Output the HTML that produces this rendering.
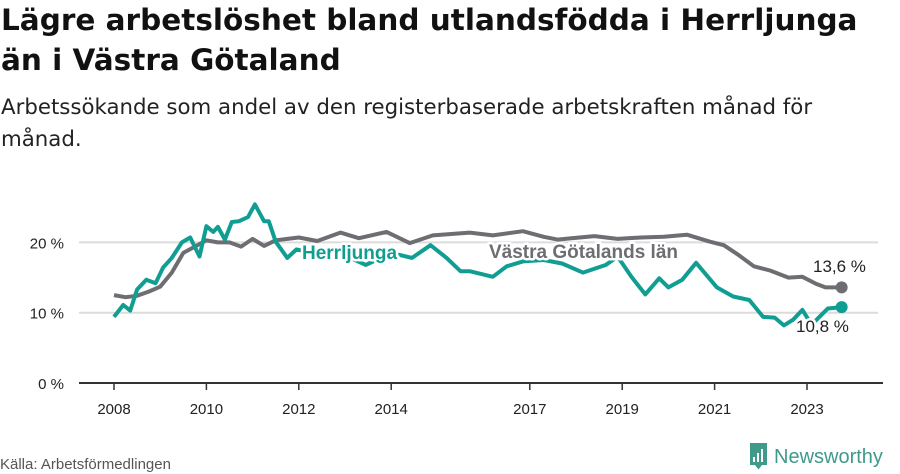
<!DOCTYPE html>
<html><head><meta charset="utf-8"><style>
html,body{margin:0;padding:0;background:#fff;}
body{width:900px;height:474px;overflow:hidden;position:relative;font-family:"Liberation Sans","DejaVu Sans",sans-serif;}
#title{position:absolute;left:1px;top:0px;font-family:"DejaVu Sans",sans-serif;font-size:29.5px;font-weight:bold;line-height:40px;color:#111;margin:0;width:899px;white-space:nowrap}
#sub{position:absolute;left:1px;top:92px;font-family:"DejaVu Sans",sans-serif;font-size:21.3px;line-height:32px;color:#222;margin:0;width:899px;white-space:nowrap}
svg{position:absolute;left:0;top:0}
.lbl{paint-order:stroke;stroke:#fff;stroke-width:5px;stroke-linejoin:round}
</style></head><body>
<h1 id="title">Lägre arbetslöshet bland utlandsfödda i Herrljunga<br>än i Västra Götaland</h1>
<p id="sub">Arbetssökande som andel av den registerbaserade arbetskraften månad för<br>månad.</p>
<svg id="chart" width="900" height="474"></svg>
<script>
const yTicks=[0,10,20];
const yTickLabels=["0 %","10 %","20 %"];
const xTicks=[2008,2010,2012,2014,2017,2019,2021,2023];
const grayDates=[2008,2008.25,2008.5,2008.75,2009,2009.25,2009.5,2009.75,2010,2010.25,2010.5,2010.75,2011,2011.25,2011.5,2011.75,2012,2012.4,2012.9,2013.3,2013.9,2014.4,2014.9,2015.3,2015.7,2016.2,2016.85,2017.3,2017.6,2017.9,2018.4,2018.9,2019.4,2019.9,2020.4,2020.9,2021.2,2021.5,2021.85,2022.2,2022.6,2022.9,2023.2,2023.4,2023.75];
const grayValues=[12.5,12.2,12.4,13.0,13.7,15.7,18.5,19.4,20.3,20.0,20.0,19.4,20.5,19.5,20.3,20.5,20.7,20.2,21.4,20.6,21.5,19.9,21.0,21.2,21.4,21.0,21.6,20.8,20.4,20.6,20.9,20.5,20.7,20.8,21.1,20.1,19.6,18.3,16.6,16.0,15.0,15.1,14.1,13.6,13.6];
const tealDates=[2008,2008.2,2008.35,2008.5,2008.7,2008.9,2009.06,2009.25,2009.47,2009.65,2009.85,2010,2010.15,2010.25,2010.4,2010.55,2010.7,2010.9,2011.05,2011.25,2011.35,2011.5,2011.75,2011.95,2012.3,2012.8,2013.45,2014.0,2014.45,2014.85,2015.2,2015.5,2015.7,2016.2,2016.5,2016.85,2017.3,2017.7,2018.15,2018.65,2018.9,2019.2,2019.5,2019.8,2020.0,2020.3,2020.6,2021.05,2021.4,2021.75,2022.05,2022.3,2022.5,2022.7,2022.9,2023.1,2023.45,2023.75];
const tealValues=[9.4,11.1,10.3,13.3,14.7,14.2,16.4,17.8,20.0,20.7,18.0,22.3,21.5,22.2,20.4,22.9,23.0,23.6,25.4,23.0,23.0,20.1,17.8,19.0,18.5,18.7,16.8,18.5,17.8,19.6,17.8,15.9,15.9,15.1,16.6,17.3,17.5,17.0,15.7,16.8,18.0,15.1,12.6,14.9,13.6,14.7,17.1,13.6,12.3,11.8,9.4,9.3,8.2,9.0,10.4,8.3,10.6,10.8];
const NS='http://www.w3.org/2000/svg';
const svg=document.getElementById('chart');
const X=t=>114+46.2*(t-2008);
const Y=v=>383-7.03*v;
function mk(tag,attrs,parent){const e=document.createElementNS(NS,tag);for(const k in attrs)e.setAttribute(k,attrs[k]);(parent||svg).appendChild(e);return e;}
yTicks.forEach((v,i)=>{
  if(v>0){const g=mk('line',{x1:79,x2:878,y1:Y(v),y2:Y(v),stroke:'#dcdcdc','stroke-width':2});
  
  }
  const t=mk('text',{x:64,y:Y(v)+6,'text-anchor':'end','font-size':15,fill:'#222'});
  t.textContent=yTickLabels[i];
  
  
});
const ax=mk('line',{x1:79,x2:883,y1:Y(0),y2:Y(0),stroke:'#333','stroke-width':2});


xTicks.forEach(yr=>{
  const tk=mk('line',{x1:X(yr),x2:X(yr),y1:Y(0),y2:Y(0)+7,stroke:'#333','stroke-width':1.5});
  
  
  const t=mk('text',{x:X(yr),y:414,'text-anchor':'middle','font-size':15,fill:'#222'});
  t.textContent=yr;
  
  
});
function path(d,v){return d.map((t,i)=>(i?'L':'M')+X(t).toFixed(1)+','+Y(v[i]).toFixed(1)).join('');}
const gl=mk('path',{d:path(grayDates,grayValues),fill:'none',stroke:'#6e6d72','stroke-width':4,'stroke-linejoin':'round'});


const tl=mk('path',{d:path(tealDates,tealValues),fill:'none',stroke:'#119e92','stroke-width':4,'stroke-linejoin':'round'});


const gd=mk('circle',{cx:X(grayDates[grayDates.length-1]),cy:Y(grayValues[grayValues.length-1]),r:6,fill:'#6e6d72'});


const td=mk('circle',{cx:X(tealDates[tealDates.length-1]),cy:Y(tealValues[tealValues.length-1]),r:6,fill:'#119e92'});


function label(txt,x,y,opts,name){const t=mk('text',Object.assign({x:x,y:y},opts));t.textContent=txt;

return t;}
label('Herrljunga',302,259,{class:'lbl','font-size':19,'font-weight':'bold',fill:'#119e92'},'herrljunga-label');
label('Västra Götalands län',489,258,{class:'lbl','font-size':19,'font-weight':'bold',fill:'#6e6d72'},'vastra-gotaland-label');
label(grayValues[grayValues.length-1].toFixed(1).replace('.',',')+' %',813,272,{class:'lbl','font-size':17,fill:'#222'},'vastra-gotaland-value-label');
label(tealValues[tealValues.length-1].toFixed(1).replace('.',',')+' %',796,332,{class:'lbl','font-size':17,fill:'#222'},'herrljunga-value-label');
label('Källa: Arbetsförmedlingen',0,469,{'font-size':15,fill:'#555'},'source-note');
const lg=mk('g',{});


mk('path',{d:'M750,443h17v22h-5l-3.5,4.5-3.5,-4.5h-5z',fill:'#3f9a8c'},lg);
mk('rect',{x:753,y:457,width:2,height:5,fill:'#fff'},lg);
mk('rect',{x:757,y:453,width:2,height:9,fill:'#fff'},lg);
mk('rect',{x:761,y:449,width:2,height:13,fill:'#fff'},lg);
const nt=mk('text',{x:774,y:463,'font-size':20,fill:'#3f9a8c'},lg);nt.textContent='Newsworthy';
</script>
</body></html>
